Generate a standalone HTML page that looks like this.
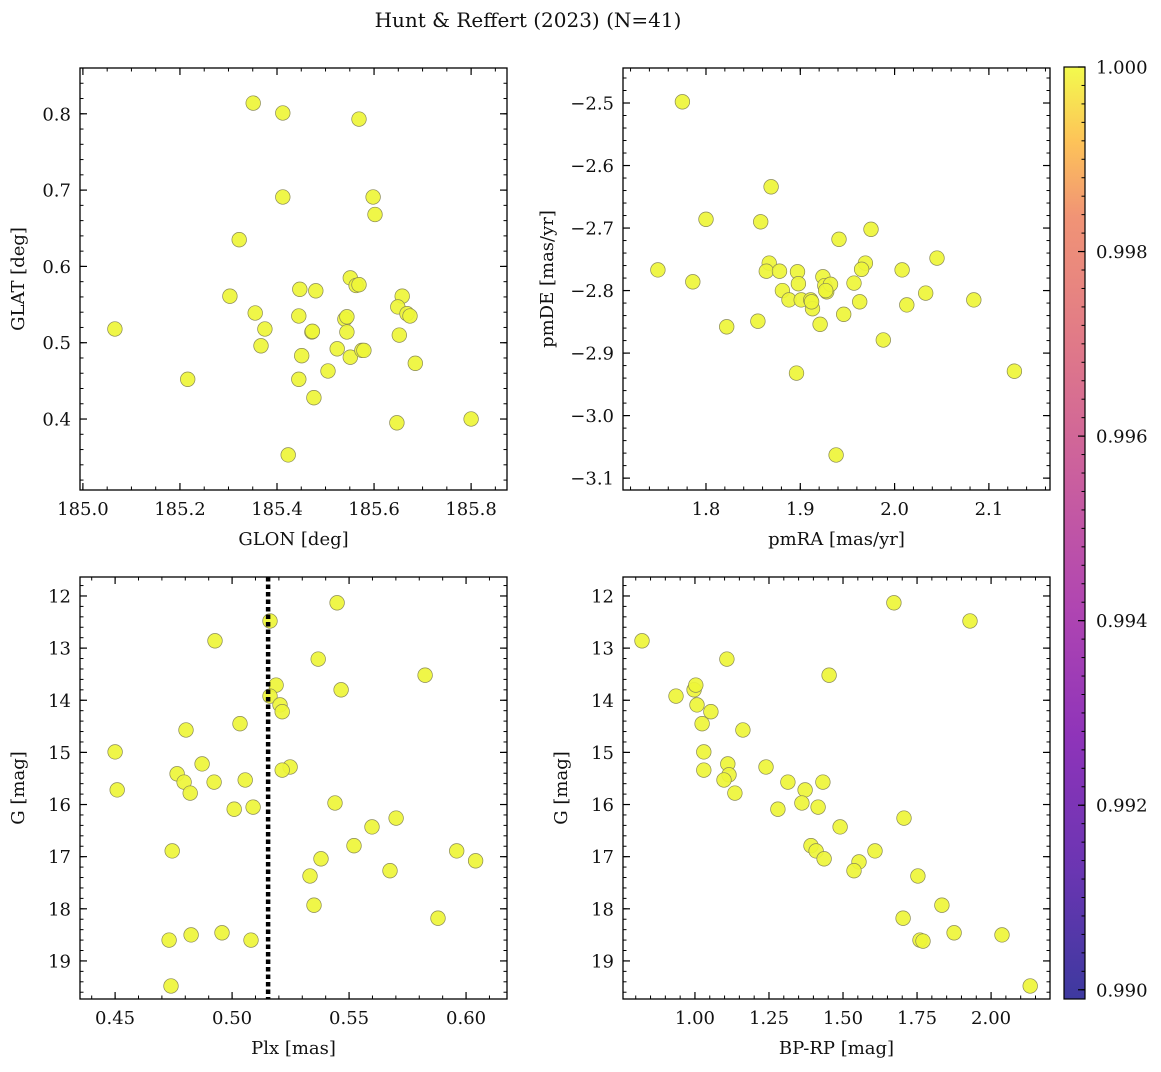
<!DOCTYPE html>
<html><head><meta charset="utf-8">
<style>
body{margin:0;background:#fff;}
svg text{font-family:"DejaVu Serif","Liberation Serif",serif;fill:#111;}
</style></head>
<body>
<svg id="fig" width="1161" height="1067" viewBox="0 0 1161 1067" xmlns="http://www.w3.org/2000/svg">
<defs>
<linearGradient id="plasma" x1="0" y1="1" x2="0" y2="0">
<stop offset="0" stop-color="#0d0887"/>
<stop offset="0.14" stop-color="#46039f"/>
<stop offset="0.28" stop-color="#7201a8"/>
<stop offset="0.42" stop-color="#9c179e"/>
<stop offset="0.56" stop-color="#bd3786"/>
<stop offset="0.7" stop-color="#d8576b"/>
<stop offset="0.84" stop-color="#ed7953"/>
<stop offset="0.92" stop-color="#fdb42f"/>
<stop offset="1" stop-color="#f0f921"/>
</linearGradient>
</defs>
<text x="528" y="27" font-size="20" text-anchor="middle">Hunt &amp; Reffert (2023) (N=41)</text>
</svg>
<script>
// ---- data ----
const glon=[185.066,185.216,185.351,185.412,185.569,185.412,185.598,185.602,185.322,185.303,185.355,185.375,185.367,185.447,185.480,185.551,185.563,185.569,185.445,185.472,185.540,185.544,185.544,185.658,185.649,185.668,185.674,185.652,185.524,185.551,185.575,185.579,185.451,185.505,185.685,185.445,185.476,185.647,185.800,185.423,185.473];
const glat=[0.518,0.452,0.814,0.801,0.793,0.691,0.691,0.668,0.635,0.561,0.539,0.518,0.496,0.570,0.568,0.585,0.575,0.576,0.535,0.514,0.531,0.534,0.514,0.561,0.547,0.538,0.535,0.510,0.492,0.481,0.490,0.490,0.483,0.463,0.473,0.452,0.428,0.395,0.400,0.353,0.515];
const pmra=[1.775,1.749,1.800,1.786,1.869,1.858,1.867,1.864,1.878,1.897,1.898,1.881,1.888,1.901,1.911,1.913,1.924,1.926,1.928,1.932,1.941,1.975,1.969,1.965,1.957,1.963,1.946,1.921,1.855,1.822,1.988,2.008,2.045,2.033,2.013,2.084,2.127,1.896,1.938,1.912,1.927];
const pmde=[-2.498,-2.767,-2.686,-2.786,-2.634,-2.690,-2.756,-2.769,-2.769,-2.770,-2.789,-2.800,-2.815,-2.815,-2.815,-2.829,-2.778,-2.792,-2.802,-2.790,-2.718,-2.702,-2.756,-2.766,-2.788,-2.818,-2.838,-2.854,-2.849,-2.858,-2.879,-2.767,-2.748,-2.804,-2.823,-2.815,-2.929,-2.932,-3.063,-2.818,-2.800];
const plx=[0.5449,0.5162,0.4927,0.5368,0.5825,0.5188,0.5466,0.5162,0.5205,0.5214,0.5034,0.4803,0.4500,0.4872,0.5248,0.5214,0.4765,0.4795,0.4923,0.5056,0.4821,0.4509,0.5009,0.5090,0.5440,0.5701,0.5598,0.5521,0.5380,0.5333,0.5960,0.5675,0.6041,0.4744,0.5350,0.5880,0.4731,0.4825,0.4957,0.5081,0.4739];
const gmagL=[12.13,12.48,12.86,13.21,13.52,13.71,13.80,13.92,14.09,14.22,14.45,14.57,14.99,15.22,15.28,15.34,15.41,15.57,15.57,15.53,15.78,15.72,16.09,16.05,15.97,16.26,16.43,16.79,17.04,17.37,16.89,17.27,17.08,16.89,17.93,18.18,18.60,18.50,18.46,18.60,19.48];
const bprp=[0.821,1.672,1.929,1.108,1.453,0.936,0.997,1.003,1.007,1.054,1.024,1.162,1.030,1.240,1.111,1.030,1.115,1.098,1.314,1.432,1.135,1.372,1.280,1.361,1.416,1.490,1.706,1.392,1.409,1.608,1.436,1.554,1.537,1.753,1.703,1.834,1.760,1.770,1.875,2.037,2.132];
const gmagR=[12.86,12.13,12.48,13.21,13.52,13.92,13.80,13.71,14.09,14.22,14.45,14.57,14.99,15.28,15.22,15.34,15.43,15.53,15.57,15.57,15.78,15.72,16.09,15.97,16.05,16.43,16.26,16.79,16.89,16.89,17.04,17.10,17.27,17.37,18.18,17.93,18.60,18.62,18.46,18.50,19.48];
const plxMedian=0.5154;
const cbTicks=[0.990,0.992,0.994,0.996,0.998,1.000];

const NS="http://www.w3.org/2000/svg";
const svg=document.getElementById('fig');
const FS=18;
function mk(tag,attrs,parent){const e=document.createElementNS(NS,tag);for(const k in attrs)e.setAttribute(k,attrs[k]);(parent||svg).appendChild(e);return e;}

function panel(o){
  const g=mk('g',{});
  
  
  const sx=v=>o.x0+(v-o.xmin)/(o.xmax-o.xmin)*(o.x1-o.x0);
  const sy=v=>o.inv? o.y0+(v-o.ymin)/(o.ymax-o.ymin)*(o.y1-o.y0) : o.y1-(v-o.ymin)/(o.ymax-o.ymin)*(o.y1-o.y0);
  for(let i=0;i<o.xs.length;i++){
    const c=mk('circle',{cx:sx(o.xs[i]).toFixed(1),cy:sy(o.ys[i]).toFixed(1),r:7.3,fill:'#eef538','fill-opacity':0.92,stroke:'#8a8a55','stroke-width':0.7},g);
    
    
  }
  if(o.vline!==undefined){
    const l=mk('line',{x1:sx(o.vline),x2:sx(o.vline),y1:o.y0,y2:o.y1,stroke:'#000','stroke-width':4.5,'stroke-dasharray':'4.5 3'},g);
    
    
  }
  const eps=1e-9;
  function ticks(min,max,step){const a=[];const s=Math.ceil(min/step-eps);for(let k=s;k*step<=max+eps;k++)a.push(+(k*step).toFixed(6));return a;}
  const xt=ticks(o.xmin,o.xmax,o.xmaj), xm=ticks(o.xmin,o.xmax,o.xmin_);
  const yt=ticks(Math.min(o.ymin,o.ymax),Math.max(o.ymin,o.ymax),o.ymaj), ym=ticks(Math.min(o.ymin,o.ymax),Math.max(o.ymin,o.ymax),o.ymin_);
  xm.forEach(v=>{const x=sx(v);mk('line',{x1:x,x2:x,y1:o.y1,y2:o.y1-3.5,stroke:'#000','stroke-width':1},g);mk('line',{x1:x,x2:x,y1:o.y0,y2:o.y0+3.5,stroke:'#000','stroke-width':1},g);});
  ym.forEach(v=>{const y=sy(v);mk('line',{x1:o.x0,x2:o.x0+3.5,y1:y,y2:y,stroke:'#000','stroke-width':1},g);mk('line',{x1:o.x1,x2:o.x1-3.5,y1:y,y2:y,stroke:'#000','stroke-width':1},g);});
  xt.forEach(v=>{const x=sx(v);mk('line',{x1:x,x2:x,y1:o.y1,y2:o.y1-7,stroke:'#000','stroke-width':1.2},g);mk('line',{x1:x,x2:x,y1:o.y0,y2:o.y0+7,stroke:'#000','stroke-width':1.2},g);
    const t=mk('text',{x:x,y:o.y1+25,'font-size':FS,'text-anchor':'middle'},g);t.textContent=v.toFixed(o.xdec);
    });
  yt.forEach(v=>{const y=sy(v);mk('line',{x1:o.x0,x2:o.x0+7,y1:y,y2:y,stroke:'#000','stroke-width':1.2},g);mk('line',{x1:o.x1,x2:o.x1-7,y1:y,y2:y,stroke:'#000','stroke-width':1.2},g);
    const t=mk('text',{x:o.x0-9,y:y+6.5,'font-size':FS,'text-anchor':'end'},g);t.textContent=(v<0?'\u2212':'')+Math.abs(v).toFixed(o.ydec);
    });
  mk('rect',{x:o.x0,y:o.y0,width:o.x1-o.x0,height:o.y1-o.y0,fill:'none',stroke:'#000','stroke-width':1.3},g);
  const xl=mk('text',{x:(o.x0+o.x1)/2,y:o.y1+55,'font-size':FS,'text-anchor':'middle'},g);xl.textContent=o.xlabel;
  
  const cy=(o.y0+o.y1)/2, lx=o.x0-o.ylx;
  const yl=mk('text',{x:lx,y:cy,'font-size':FS,'text-anchor':'middle',transform:`rotate(-90 ${lx} ${cy})`},g);yl.textContent=o.ylabel;
  
}

panel({name:'glon-glat-panel',x0:80,x1:507,y0:68,y1:490,xmin:184.994,xmax:185.874,ymin:0.307,ymax:0.860,xmaj:0.2,xmin_:0.05,ymaj:0.1,ymin_:0.02,xdec:1,ydec:1,xs:glon,ys:glat,xlabel:'GLON [deg]',ylabel:'GLAT [deg]',ylx:56});
panel({name:'pm-panel',x0:623,x1:1050,y0:68,y1:490,xmin:1.712,xmax:2.1648,ymin:-3.119,ymax:-2.444,xmaj:0.1,xmin_:0.02,ymaj:0.1,ymin_:0.02,xdec:1,ydec:1,xs:pmra,ys:pmde,xlabel:'pmRA [mas/yr]',ylabel:'pmDE [mas/yr]',ylx:70});
panel({name:'plx-g-panel',x0:80,x1:507,y0:577,y1:999,xmin:0.4350,xmax:0.6175,ymin:11.636,ymax:19.73,inv:true,xmaj:0.05,xmin_:0.01,ymaj:1,ymin_:0.2,xdec:2,ydec:0,xs:plx,ys:gmagL,xlabel:'Plx [mas]',ylabel:'G [mag]',ylx:56,vline:plxMedian});
panel({name:'cmd-panel',x0:623,x1:1050,y0:577,y1:999,xmin:0.757,xmax:2.199,ymin:11.636,ymax:19.73,inv:true,xmaj:0.25,xmin_:0.05,ymaj:1,ymin_:0.2,xdec:2,ydec:0,xs:bprp,ys:gmagR,xlabel:'BP-RP [mag]',ylabel:'G [mag]',ylx:56});

const cb=mk('g',{});


const cbx0=1064,cbx1=1085,cby0=67,cby1=999,cmin=0.98990,cmax=1.0;
mk('rect',{x:cbx0,y:cby0,width:cbx1-cbx0,height:cby1-cby0,fill:'url(#plasma)','fill-opacity':0.8},cb);
mk('rect',{x:cbx0,y:cby0,width:cbx1-cbx0,height:cby1-cby0,fill:'none',stroke:'#000','stroke-width':1.2},cb);
const cyv=v=>cby1-(v-cmin)/(cmax-cmin)*(cby1-cby0);
for(let k=0;k<=50;k++){const v=cmin+0.0001+k*0.0002;if(v>cmax+1e-9)break;const y=cyv(+v.toFixed(5));mk('line',{x1:cbx1,x2:cbx1-3.5,y1:y,y2:y,stroke:'#000','stroke-width':1},cb);}
cbTicks.forEach(v=>{const y=cyv(v);mk('line',{x1:cbx1,x2:cbx1-7,y1:y,y2:y,stroke:'#000','stroke-width':1.2},cb);
  const t=mk('text',{x:cbx1+11,y:y+6.5,'font-size':FS},cb);t.textContent=v.toFixed(3);
  });
</script>
</body></html>
